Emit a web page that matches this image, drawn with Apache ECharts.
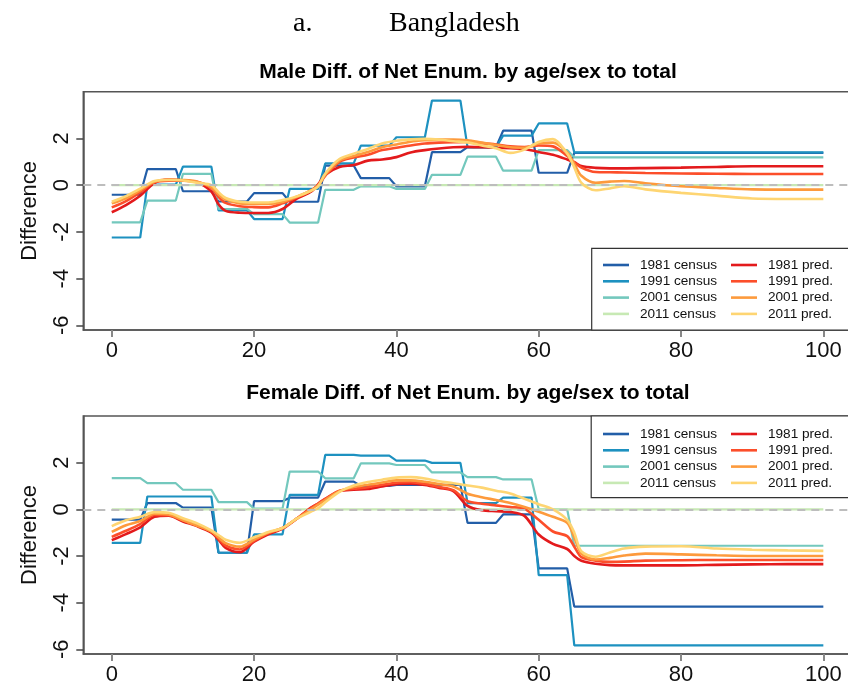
<!DOCTYPE html>
<html>
<head>
<meta charset="utf-8">
<script src="https://cdn.jsdelivr.net/npm/echarts@6/dist/echarts.min.js"></script>
<style>
  html, body { margin: 0; padding: 0; background: #ffffff; }
  #chart { width: 848px; height: 685px; }
</style>
</head>
<body>
<div id="chart"></div>
<script>
// Differences of net enumeration by age and sex relative to the total, Bangladesh.
// Census values are given per five-year age group (0-4, 5-9, ..., 60-64, 65+).
const censusNames = ['1981 census', '1991 census', '2001 census', '2011 census'];
const predNames = ['1981 pred.', '1991 pred.', '2001 pred.', '2011 pred.'];
const censusColors = ['#225ea8', '#1d91c0', '#73c8bd', '#c7e9b4'];
const predColors = ['#e31a1c', '#fc4e2a', '#fd9a3c', '#fed572'];

const xTicks = [0, 20, 40, 60, 80, 100];
const yTicks = [-6, -4, -2, 0, 2];

// Male census, by five-year age group
const maleCensus1981 = [-0.41, 0.69, -0.26, -0.70, -0.34, -0.71, 0.84, 0.30, -0.05, 1.41, 1.63, 2.33, 0.53, 1.38];
const maleCensus1991 = [-2.24, 0.02, 0.79, -1.08, -1.45, -0.16, 0.93, 1.69, 2.05, 3.62, 1.62, 2.12, 2.64, 1.40];
const maleCensus2001 = [-1.59, -0.66, 0.48, -1.02, -1.24, -1.60, -0.20, -0.05, -0.16, 0.44, 1.22, 0.62, 1.50, 1.19];
const maleCensus2011 = [0, 0, 0, 0, 0, 0, 0, 0, 0, 0, 0, 0, 0, 0];

// Female census, by five-year age group
const femaleCensus1981 = [-0.44, 0.27, 0.07, -1.86, 0.35, 0.50, 1.19, 1.00, 1.05, 1.05, -0.58, -0.22, -2.53, -4.17];
const femaleCensus1991 = [-1.44, 0.55, 0.55, -1.86, -1.07, 0.62, 2.33, 2.30, 2.09, 1.99, 0.27, 0.50, -2.82, -5.83];
const femaleCensus2001 = [1.34, 1.12, 0.84, 0.31, 0.03, 1.62, 1.33, 1.97, 1.90, 1.58, 1.38, 1.28, 0.00, -1.56];
const femaleCensus2011 = [0, 0, 0, 0, 0, 0, 0, 0, 0, 0, 0, 0, 0, 0];

// Ages at which the smoothed predictions are given
const predAges = [0, 2, 4, 6, 8, 10, 12, 14, 15, 16, 18, 20, 22, 24, 26, 28, 29, 30, 32, 34, 36, 38, 40, 42,
  44, 46, 48, 50, 52, 54, 56, 58, 60, 62, 64, 65, 66, 68, 70, 72, 75, 80, 85, 90, 95, 100];

const malePred1981 = [-1.16, -0.85, -0.45, 0.09, 0.24, 0.20, 0.12, -0.28, -0.82, -1.10, -1.18, -1.19, -1.19, -1.02,
  -0.58, -0.28, 0.03, 0.45, 0.78, 0.86, 1.05, 1.10, 1.20, 1.40, 1.50, 1.57, 1.62, 1.64, 1.62, 1.60, 1.58, 1.55,
  1.42, 1.30, 1.10, 0.98, 0.82, 0.74, 0.72, 0.72, 0.73, 0.75, 0.78, 0.81, 0.81, 0.81];
const malePred1991 = [-0.95, -0.68, -0.30, 0.12, 0.19, 0.19, 0.15, -0.12, -0.50, -0.76, -0.90, -0.94, -0.95, -0.78,
  -0.52, -0.22, 0.00, 0.40, 1.00, 1.18, 1.30, 1.50, 1.60, 1.70, 1.78, 1.82, 1.84, 1.85, 1.80, 1.74, 1.66, 1.63,
  1.70, 1.66, 1.25, 0.98, 0.75, 0.56, 0.55, 0.54, 0.52, 0.50, 0.49, 0.48, 0.48, 0.48];
const malePred2001 = [-0.78, -0.56, -0.22, 0.14, 0.24, 0.22, 0.15, -0.08, -0.40, -0.62, -0.78, -0.81, -0.81, -0.72,
  -0.50, -0.24, -0.02, 0.45, 1.05, 1.25, 1.42, 1.62, 1.74, 1.86, 1.92, 1.95, 1.95, 1.92, 1.82, 1.72, 1.62, 1.60,
  1.78, 1.82, 1.40, 0.91, 0.40, 0.10, 0.15, 0.18, 0.08, -0.05, -0.12, -0.18, -0.19, -0.19];
const malePred2011 = [-0.71, -0.47, -0.15, 0.18, 0.22, 0.20, 0.10, 0.00, -0.30, -0.55, -0.71, -0.74, -0.74, -0.64,
  -0.48, -0.24, -0.05, 0.50, 1.12, 1.35, 1.55, 1.78, 1.90, 1.96, 1.98, 1.95, 1.88, 1.83, 1.70, 1.58, 1.38, 1.52,
  1.85, 1.97, 1.35, 0.76, 0.10, -0.22, -0.14, -0.05, -0.18, -0.33, -0.45, -0.57, -0.59, -0.59];

const femalePred1981 = [-1.32, -1.06, -0.77, -0.32, -0.27, -0.52, -0.72, -1.00, -1.30, -1.65, -1.84, -1.39, -1.07, -0.83,
  -0.40, 0.08, 0.25, 0.45, 0.78, 0.84, 0.87, 0.98, 1.08, 1.10, 1.04, 0.92, 0.78, 0.15, -0.04, -0.08, -0.11, -0.28,
  -1.08, -1.48, -1.70, -2.00, -2.20, -2.33, -2.39, -2.40, -2.40, -2.40, -2.38, -2.36, -2.35, -2.35];
const femalePred1991 = [-1.18, -0.92, -0.63, -0.24, -0.25, -0.47, -0.70, -0.95, -1.25, -1.55, -1.72, -1.35, -1.03, -0.80,
  -0.40, 0.05, 0.25, 0.45, 0.80, 0.88, 0.95, 1.05, 1.14, 1.16, 1.09, 0.96, 0.82, 0.35, 0.24, 0.17, 0.10, 0.02,
  -0.45, -0.95, -1.15, -1.60, -2.05, -2.20, -2.25, -2.24, -2.20, -2.18, -2.17, -2.17, -2.17, -2.17];
const femalePred2001 = [-0.97, -0.68, -0.50, -0.19, -0.22, -0.47, -0.70, -0.95, -1.20, -1.45, -1.60, -1.30, -1.00, -0.80,
  -0.40, 0.00, 0.20, 0.40, 0.78, 0.96, 1.05, 1.15, 1.24, 1.24, 1.18, 1.08, 0.98, 0.67, 0.52, 0.40, 0.27, 0.10,
  -0.10, -0.32, -0.58, -1.20, -1.90, -2.15, -2.08, -1.98, -1.90, -1.93, -1.97, -2.00, -2.00, -2.00];
const femalePred2011 = [-0.72, -0.47, -0.32, -0.12, -0.15, -0.38, -0.60, -0.90, -1.10, -1.30, -1.43, -1.20, -0.97, -0.80,
  -0.40, -0.10, 0.05, 0.30, 0.75, 1.02, 1.17, 1.27, 1.36, 1.38, 1.32, 1.20, 1.12, 1.02, 0.93, 0.80, 0.68, 0.45,
  0.22, 0.00, -0.45, -1.00, -1.80, -2.03, -1.85, -1.68, -1.60, -1.58, -1.68, -1.73, -1.76, -1.78];

const maleCensus = [maleCensus1981, maleCensus1991, maleCensus2001, maleCensus2011];
const femaleCensus = [femaleCensus1981, femaleCensus1991, femaleCensus2001, femaleCensus2011];
const malePred = [malePred1981, malePred1991, malePred2001, malePred2011];
const femalePred = [femalePred1981, femalePred1991, femalePred2001, femalePred2011];

const SANS = '"Liberation Sans", Arial, sans-serif';
const SERIF = '"Liberation Serif", "Times New Roman", serif';

// Single-year ages 0..100 take the value of their five-year group (65+ is open-ended).
function censusPoints(groups) {
  const pts = [];
  for (let age = 0; age <= 100; age++) {
    pts.push([age, groups[Math.min(Math.floor(age / 5), groups.length - 1)]]);
  }
  return pts;
}

function predPoints(values) {
  return predAges.map((a, i) => [a, values[i]]);
}

function panelSeries(census, preds, idx) {
  const list = [];
  census.forEach((groups, k) => {
    const s = {
      name: censusNames[k], type: 'line', xAxisIndex: idx, yAxisIndex: idx,
      data: censusPoints(groups), symbol: 'none', smooth: false,
      lineStyle: { color: censusColors[k], width: 2.2 }, itemStyle: { color: censusColors[k] },
      z: 2
    };
    if (k === census.length - 1) {
      // horizontal reference line at zero
      s.markLine = {
        silent: true, symbol: 'none', label: { show: false },
        lineStyle: { color: '#bdbdbd', type: [8, 6], width: 2 },
        data: [{ yAxis: 0 }]
      };
    }
    list.push(s);
  });
  preds.forEach((vals, k) => {
    list.push({
      name: predNames[k], type: 'line', xAxisIndex: idx, yAxisIndex: idx,
      data: predPoints(vals), symbol: 'none', smooth: 0.3,
      lineStyle: { color: predColors[k], width: 2.6 }, itemStyle: { color: predColors[k] },
      z: 3
    });
  });
  return list;
}

function xAxisFor(idx) {
  return {
    type: 'value', gridIndex: idx, min: -4, max: 104, position: 'bottom',
    splitLine: { show: false },
    axisLine: { show: true, onZero: false, lineStyle: { color: '#555', width: 1.5 } },
    axisTick: { show: true, inside: false, customValues: xTicks, length: 7, lineStyle: { color: '#888', width: 2 } },
    axisLabel: { customValues: xTicks, margin: 10, fontFamily: SANS, fontSize: 22, color: '#111' }
  };
}

function yAxisFor(idx) {
  return {
    type: 'value', gridIndex: idx, min: -6.2, max: 4.0, position: 'left',
    name: 'Difference', nameLocation: 'middle', nameGap: 42, nameRotate: 90,
    nameTextStyle: { fontFamily: SANS, fontSize: 22, color: '#111' },
    splitLine: { show: false },
    axisLine: { show: true, onZero: false, lineStyle: { color: '#555', width: 1.5 } },
    axisTick: { show: true, inside: false, customValues: yTicks, length: 7, lineStyle: { color: '#444', width: 1.5 } },
    axisLabel: { customValues: yTicks, rotate: 90, margin: 10, fontFamily: SANS, fontSize: 22, color: '#111' }
  };
}

function legendsFor(top) {
  const common = {
    orient: 'vertical', top: top, itemWidth: 26, itemHeight: 2.6, itemGap: 2.3, padding: 0,
    icon: 'rect',
    textStyle: { fontFamily: SANS, fontSize: 13.6, color: '#111', padding: [0, 0, 0, 6], lineHeight: 14 },
    selectedMode: false
  };
  return [
    Object.assign({}, common, { left: 603, data: censusNames.map((n, k) => ({ name: n, itemStyle: { color: censusColors[k] } })) }),
    Object.assign({}, common, { left: 731, data: predNames.map((n, k) => ({ name: n, itemStyle: { color: predColors[k] } })) })
  ];
}

const chart = echarts.init(document.getElementById('chart'), null, { renderer: 'canvas' });

chart.setOption({
  backgroundColor: '#ffffff',
  animation: false,
  title: [
    { text: 'a.', left: 288, top: 5, textStyle: { fontFamily: SERIF, fontSize: 28, fontWeight: 'normal', color: '#000' } },
    { text: 'Bangladesh', left: 384, top: 5, textStyle: { fontFamily: SERIF, fontSize: 28, fontWeight: 'normal', color: '#000' } },
    { text: 'Male Diff. of Net Enum. by age/sex to total', left: 463, textAlign: 'center', top: 57, textStyle: { fontFamily: SANS, fontSize: 21, fontWeight: 'bold', color: '#000' } },
    { text: 'Female Diff. of Net Enum. by age/sex to total', left: 463, textAlign: 'center', top: 378, textStyle: { fontFamily: SANS, fontSize: 21, fontWeight: 'bold', color: '#000' } }
  ],
  grid: [
    { left: 83.3, top: 91.7, width: 768.5, height: 238.3, outerBoundsMode: 'none', containLabel: false,
      show: true, borderColor: '#555', borderWidth: 1.5, backgroundColor: 'transparent' },
    { left: 83.3, top: 416, width: 768.5, height: 238, outerBoundsMode: 'none', containLabel: false,
      show: true, borderColor: '#555', borderWidth: 1.5, backgroundColor: 'transparent' }
  ],
  xAxis: [xAxisFor(0), xAxisFor(1)],
  yAxis: [yAxisFor(0), yAxisFor(1)],
  legend: legendsFor(258).concat(legendsFor(427)),
  graphic: [
    { type: 'rect', z: 1, shape: { x: 591.7, y: 248.3, width: 262, height: 81.7 }, style: { fill: '#fff', stroke: '#333', lineWidth: 1.2 } },
    { type: 'rect', z: 1, shape: { x: 591.2, y: 416, width: 262, height: 81.7 }, style: { fill: '#fff', stroke: '#333', lineWidth: 1.2 } }
  ],
  series: panelSeries(maleCensus, malePred, 0).concat(panelSeries(femaleCensus, femalePred, 1))
});
</script>
</body>
</html>
